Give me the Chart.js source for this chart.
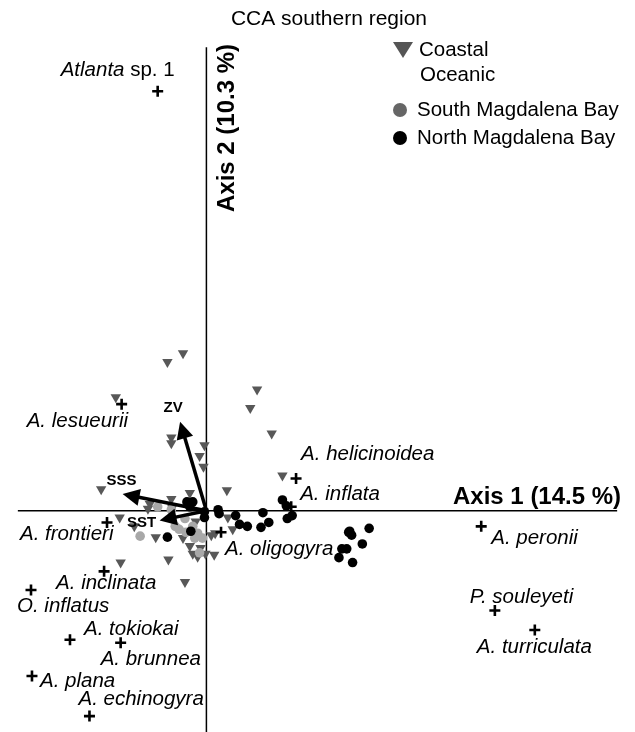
<!DOCTYPE html>
<html>
<head>
<meta charset="utf-8">
<script src="https://cdn.jsdelivr.net/npm/chart.js@4.4.1/dist/chart.umd.min.js"></script>
<style>
    html, body { margin: 0; padding: 0; background: #fff; }
    canvas { display: block; }
</style>
</head>
<body>
<canvas id="ccaChart" width="635" height="732"></canvas>
<script>
// CCA southern region - site scores, species scores and environmental vectors

// Site scores, Coastal Oceanic stations [axis1, axis2]
const coastalOceanic = [
    [-0.24, 1.61], [-0.40, 1.52], [-0.93, 1.16], [0.52, 1.24], [0.45, 1.05],
    [0.67, 0.79], [-0.36, 0.75], [-0.36, 0.69], [-0.02, 0.67], [-0.07, 0.56],
    [-0.03, 0.45], [0.78, 0.36], [-1.08, 0.22], [0.21, 0.21], [-0.17, 0.18],
    [-0.36, 0.12], [-0.58, 0.07], [-0.89, -0.07], [-0.74, -0.16], [-0.60, 0.02],
    [-0.52, -0.27], [-0.35, 0.03], [-0.24, -0.28], [-0.17, -0.36], [-0.11, -0.11],
    [-0.06, -0.38], [-0.09, -0.47], [-0.14, -0.44], [-0.01, -0.44], [0.08, -0.45],
    [0.05, -0.25], [0.09, -0.23], [0.22, -0.07], [0.27, -0.19], [-0.88, -0.53],
    [-0.39, -0.50], [-0.22, -0.73]
];

// Site scores, South Magdalena Bay
const southMagdalena = [
    [-0.50, 0.04], [-0.68, -0.26], [-0.32, -0.16], [-0.28, -0.19], [-0.22, -0.08],
    [-0.14, -0.16], [-0.09, -0.23], [-0.12, -0.28], [-0.04, -0.28], [-0.07, -0.43],
    [-0.36, 0.01], [-0.21, -0.22]
];

// Site scores, North Magdalena Bay
const northMagdalena = [
    [-0.20, 0.09], [-0.14, 0.09], [-0.17, 0.04], [-0.02, -0.01], [-0.02, -0.07],
    [-0.16, -0.21], [-0.40, -0.27], [0.12, 0.01], [0.13, -0.03], [0.30, -0.05],
    [0.34, -0.14], [0.42, -0.16], [0.58, -0.02], [0.56, -0.17], [0.64, -0.12],
    [0.78, 0.11], [0.82, 0.05], [0.83, -0.08], [0.88, -0.05], [1.46, -0.22],
    [1.49, -0.25], [1.67, -0.18], [1.60, -0.34], [1.39, -0.39], [1.44, -0.39],
    [1.36, -0.48], [1.50, -0.53], [1.47, -0.21]
];

// Species scores
const speciesNames = [
    'Atlanta sp. 1', 'A. lesueurii', 'A. helicinoidea', 'A. inflata', 'A. frontieri',
    'A. oligogyra', 'A. peronii', 'A. inclinata', 'O. inflatus', 'A. tokiokai',
    'A. brunnea', 'A. plana', 'A. echinogyra', 'P. souleyeti', 'A. turriculata'
];
const speciesX = [-0.50, -0.87, 0.92, 0.87, -1.02, 0.15, 2.82, -1.05, -1.80, -1.40, -0.88, -1.79, -1.20, 2.96, 3.37];
const speciesY = [4.29, 1.09, 0.33, 0.04, -0.12, -0.22, -0.16, -0.62, -0.81, -1.32, -1.35, -1.69, -2.10, -1.02, -1.22];

// Environmental vectors (arrow tips)
const envNames = ['ZV', 'SSS', 'SST'];
const envX = [-0.27, -0.86, -0.48];
const envY = [0.91, 0.17, -0.10];

// Axis titles
const axis1Title = 'Axis 1 (14.5 %)';
const axis2Title = 'Axis 2 (10.3 %)';
const chartTitle = 'CCA southern region';

// ---- layout (pixels) ----
const FONT = '"Liberation Sans", Arial, Helvetica, sans-serif';
// label offset from the species marker: [dx to left edge, dy to text middle]
const speciesLabelOffsets = [
    [-97, -21], [-95, 17], [5, -24], [9, -13], [-87, 12],
    [4, 17], [10, 12], [-48, 12], [-14, 16], [14, -11],
    [-20, 17], [8, 5], [-11, -17], [-25, -13], [-58, 17]
];
const envLabelOffsets = [[-7, -14], [-1, -13], [-18, 2]];

const toPoints = arr => arr.map(p => ({ x: p[0], y: p[1] }));

const overlay = {
    id: 'overlay',
    afterDatasetsDraw(chart) {
        const { ctx, scales: { x, y } } = chart;
        const ox = x.getPixelForValue(0);
        const oy = y.getPixelForValue(0);

        ctx.save();

        // environmental arrows
        ctx.strokeStyle = '#000';
        ctx.fillStyle = '#000';
        ctx.lineWidth = 3.5;
        envNames.forEach((name, i) => {
            const tx = x.getPixelForValue(envX[i]);
            const ty = y.getPixelForValue(envY[i]);
            const ang = Math.atan2(ty - oy, tx - ox);
            const headLen = 17, headW = 8.5;
            const bx = tx - Math.cos(ang) * headLen;
            const by = ty - Math.sin(ang) * headLen;
            ctx.beginPath();
            ctx.moveTo(ox, oy);
            ctx.lineTo(bx + Math.cos(ang) * 3, by + Math.sin(ang) * 3);
            ctx.stroke();
            ctx.beginPath();
            ctx.moveTo(tx, ty);
            ctx.lineTo(bx + Math.sin(ang) * headW, by - Math.cos(ang) * headW);
            ctx.lineTo(bx - Math.sin(ang) * headW, by + Math.cos(ang) * headW);
            ctx.closePath();
            ctx.fill();

            ctx.font = 'bold 15px ' + FONT;
            ctx.textAlign = 'center';
            ctx.textBaseline = 'middle';
            ctx.fillText(name, tx + envLabelOffsets[i][0], ty + envLabelOffsets[i][1]);
        });

        // species labels
        ctx.textAlign = 'left';
        ctx.textBaseline = 'middle';
        speciesNames.forEach((name, i) => {
            const lx = x.getPixelForValue(speciesX[i]) + speciesLabelOffsets[i][0];
            const ly = y.getPixelForValue(speciesY[i]) + speciesLabelOffsets[i][1];
            const cut = name.indexOf(' sp.');
            if (cut > 0) {
                const genus = name.slice(0, cut);
                ctx.font = 'italic 20.5px ' + FONT;
                ctx.fillText(genus, lx, ly);
                const w = ctx.measureText(genus).width;
                ctx.font = '20.5px ' + FONT;
                ctx.fillText(name.slice(cut), lx + w, ly);
            } else {
                ctx.font = 'italic 20.5px ' + FONT;
                ctx.fillText(name, lx, ly);
            }
        });

        // title
        ctx.font = '21px ' + FONT;
        ctx.textAlign = 'center';
        ctx.fillText(chartTitle, 329, 19);

        // axis titles
        ctx.font = 'bold 24px ' + FONT;
        ctx.textAlign = 'left';
        ctx.fillText(axis1Title, 453, 497);
        ctx.save();
        ctx.translate(227, 128);
        ctx.rotate(-Math.PI / 2);
        ctx.textAlign = 'center';
        ctx.fillText(axis2Title, 0, 0);
        ctx.restore();

        // legend
        ctx.fillStyle = '#555';
        ctx.beginPath();
        ctx.moveTo(393, 42);
        ctx.lineTo(413, 42);
        ctx.lineTo(403, 58);
        ctx.closePath();
        ctx.fill();
        ctx.fillStyle = '#666';
        ctx.beginPath();
        ctx.arc(400, 110, 7, 0, Math.PI * 2);
        ctx.fill();
        ctx.fillStyle = '#000';
        ctx.beginPath();
        ctx.arc(400, 138, 7, 0, Math.PI * 2);
        ctx.fill();

        ctx.font = '20.5px ' + FONT;
        ctx.textAlign = 'left';
        ctx.fillStyle = '#000';
        ctx.fillText('Coastal', 419, 50);
        ctx.fillText('Oceanic', 420, 75);
        ctx.fillText('South Magdalena Bay', 417, 110);
        ctx.fillText('North Magdalena Bay', 417, 138);

        ctx.restore();
    }
};

new Chart(document.getElementById('ccaChart'), {
    type: 'scatter',
    data: {
        datasets: [
            {
                label: 'axis1',
                data: [{ x: -1.935, y: 0 }, { x: 4.215, y: 0 }],
                showLine: true,
                borderColor: '#000',
                borderWidth: 1.5,
                pointRadius: 0,
                order: 10
            },
            {
                label: 'axis2',
                data: [{ x: 0, y: 4.74 }, { x: 0, y: -2.3 }],
                showLine: true,
                borderColor: '#000',
                borderWidth: 1.5,
                pointRadius: 0,
                order: 10
            },
            {
                label: 'Coastal Oceanic',
                data: toPoints(coastalOceanic),
                pointStyle: 'triangle',
                rotation: 180,
                pointRadius: 6,
                backgroundColor: '#585858',
                borderColor: '#585858',
                borderWidth: 0,
                order: 5
            },
            {
                label: 'South Magdalena Bay',
                data: toPoints(southMagdalena),
                pointRadius: 4.8,
                backgroundColor: '#a8a8a8',
                borderColor: '#a8a8a8',
                borderWidth: 0,
                order: 4
            },
            {
                label: 'North Magdalena Bay',
                data: toPoints(northMagdalena),
                pointRadius: 4.8,
                backgroundColor: '#000',
                borderColor: '#000',
                borderWidth: 0,
                order: 3
            },
            {
                label: 'Species',
                data: speciesX.map((v, i) => ({ x: v, y: speciesY[i] })),
                pointStyle: 'cross',
                pointRadius: 5.5,
                borderColor: '#000',
                borderWidth: 2.6,
                order: 2
            }
        ]
    },
    options: {
        responsive: false,
        animation: false,
        events: [],
        layout: { padding: 0 },
        plugins: {
            legend: { display: false },
            tooltip: { enabled: false },
            title: { display: false }
        },
        elements: { point: { hoverRadius: 0 } },
        datasets: { scatter: { clip: false } },
        scales: {
            x: { type: 'linear', display: false, min: -2.035, max: 4.315 },
            y: { type: 'linear', display: false, min: -2.18, max: 5.14 }
        }
    },
    plugins: [overlay]
});
</script>
</body>
</html>
